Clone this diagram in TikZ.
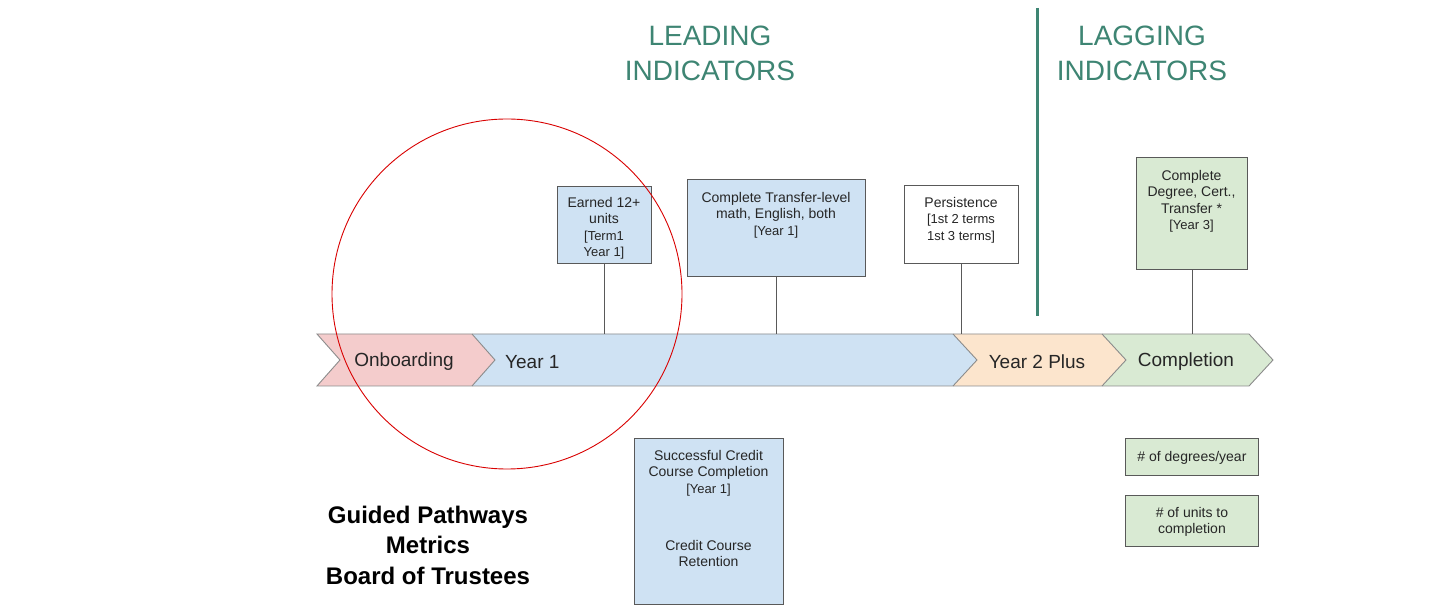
\documentclass[tikz,border=0pt]{standalone}
\usepackage{fontspec}
\setmainfont{Liberation Sans}
\definecolor{tealtxt}{HTML}{3E8573}
\definecolor{boxline}{HTML}{595959}
\definecolor{chevline}{HTML}{8C8C8C}
\definecolor{pinkfill}{HTML}{F4CCCC}
\definecolor{bluefill}{HTML}{CFE2F3}
\definecolor{peachfill}{HTML}{FCE5CD}
\definecolor{greenfill}{HTML}{D9EAD3}
\definecolor{txtdark}{HTML}{262626}
\newcommand\bsm{\fontsize{13}{15.5}\selectfont}
\newcommand\bbig{\fontsize{14}{16.5}\selectfont}
\begin{document}
\begin{tikzpicture}[x=1pt,y=-1pt,
  box/.style={draw=boxline, line width=0.9pt, rectangle, inner sep=0pt, anchor=north west},
  boxtext/.style={align=center, text=txtdark, inner sep=0pt, anchor=north, font=\bbig},
  chev/.style={draw=chevline, line width=0.9pt},
  chevtext/.style={text=txtdark, font=\fontsize{19}{22}\selectfont, inner sep=0pt},
  conn/.style={draw=boxline, line width=0.8pt},
  headtext/.style={align=center, text=tealtxt, font=\fontsize{28}{35}\selectfont, inner sep=0pt},
  titletext/.style={align=center, text=black, font=\bfseries\fontsize{24}{30.5}\selectfont, inner sep=0pt}]
\useasboundingbox (0,0) rectangle (1452,609);
\fill[white] (0,0) rectangle (1452,609);

% headings and divider
\node[headtext] (leadhead) at (710,53) {LEADING\\INDICATORS};
\node[headtext] (laghead) at (1142,53) {LAGGING\\INDICATORS};
\draw[tealtxt, line width=3pt] (1037,8) -- (1037,316);

% chevron timeline
\fill[pinkfill] (317,334) -- (472,334) -- (495,360) -- (472,386) -- (317,386) -- (340,360) -- cycle;
\fill[bluefill] (472,334) -- (953,334) -- (977,360) -- (953,386) -- (472,386) -- (495,360) -- cycle;
\fill[peachfill] (953,334) -- (1102,334) -- (1126,360) -- (1102,386) -- (953,386) -- (977,360) -- cycle;
\fill[greenfill] (1102,334) -- (1249,334) -- (1273,360) -- (1249,386) -- (1102,386) -- (1126,360) -- cycle;
\draw[chev] (317,334) -- (1249,334) -- (1273,360) -- (1249,386) -- (317,386) -- (340,360) -- cycle;
\draw[chev] (472,334) -- (495,360) -- (472,386);
\draw[chev] (953,334) -- (977,360) -- (953,386);
\draw[chev] (1102,334) -- (1126,360) -- (1102,386);
\coordinate (tltop) at (317,334);
\node[chevtext] (onb) at (404,362) {Onboarding};
\node[chevtext, anchor=west] (y1) at (505,362) {Year 1};
\node[chevtext] (y2) at (1037,362) {Year 2 Plus};
\node[chevtext] (compl) at (1186,362) {Completion};

% leading indicator boxes (top)
\node[box, fill=bluefill, minimum width=94pt, minimum height=77pt] (earned) at (557,186) {};
\node[boxtext] (earnedtxt) at (604,197) {Earned 12+\\units\\\bsm [Term1\\\bsm Year 1]};
\node[box, fill=bluefill, minimum width=178pt, minimum height=97pt] (transfer) at (687,179) {};
\node[boxtext] (transfertxt) at (776,192) {Complete Transfer-level\\math, English, both\\\bsm [Year 1]};
\node[box, fill=white, minimum width=114pt, minimum height=78pt] (persist) at (904,185) {};
\node[boxtext] (persisttxt) at (961,197) {Persistence\\\bsm [1st 2 terms\\\bsm 1st 3 terms]};
\node[box, fill=greenfill, minimum width=111pt, minimum height=112pt] (degree) at (1136,157) {};
\node[boxtext] (degreetxt) at (1191.5,170) {Complete\\Degree, Cert.,\\Transfer *\\\bsm [Year 3]};

\draw[conn] (earned.south) -- (earned.south |- tltop);
\draw[conn] (transfer.south) -- (transfer.south |- tltop);
\draw[conn] (persist.south) -- (persist.south |- tltop);
\draw[conn] (degree.south) -- (degree.south |- tltop);

% bottom boxes
\node[box, fill=bluefill, minimum width=149pt, minimum height=166pt] (credit) at (634,438) {};
\node[boxtext] (credittxt1) at (708.5,450) {Successful Credit\\Course Completion\\\bsm [Year 1]};
\node[boxtext] (credittxt2) at (708.5,540) {Credit Course\\Retention};
\node[box, fill=greenfill, minimum width=133pt, minimum height=37pt] (degyear) at (1125,438) {};
\node[boxtext] (degyeartxt) at (degyear.center) [anchor=center, yshift=-1pt] {\# of degrees/year};
\node[box, fill=greenfill, minimum width=133pt, minimum height=51pt] (units) at (1125,495) {};
\node[boxtext] (unitstxt) at (units.center) [anchor=center, yshift=-1pt] {\# of units to\\completion};

% title
\node[titletext] (title) at (428,545) {Guided Pathways\\Metrics\\Board of Trustees};

% red highlight circle
\draw[red!85!black, line width=0.9pt] (507,294) circle[radius=175];
\end{tikzpicture}
\end{document}
